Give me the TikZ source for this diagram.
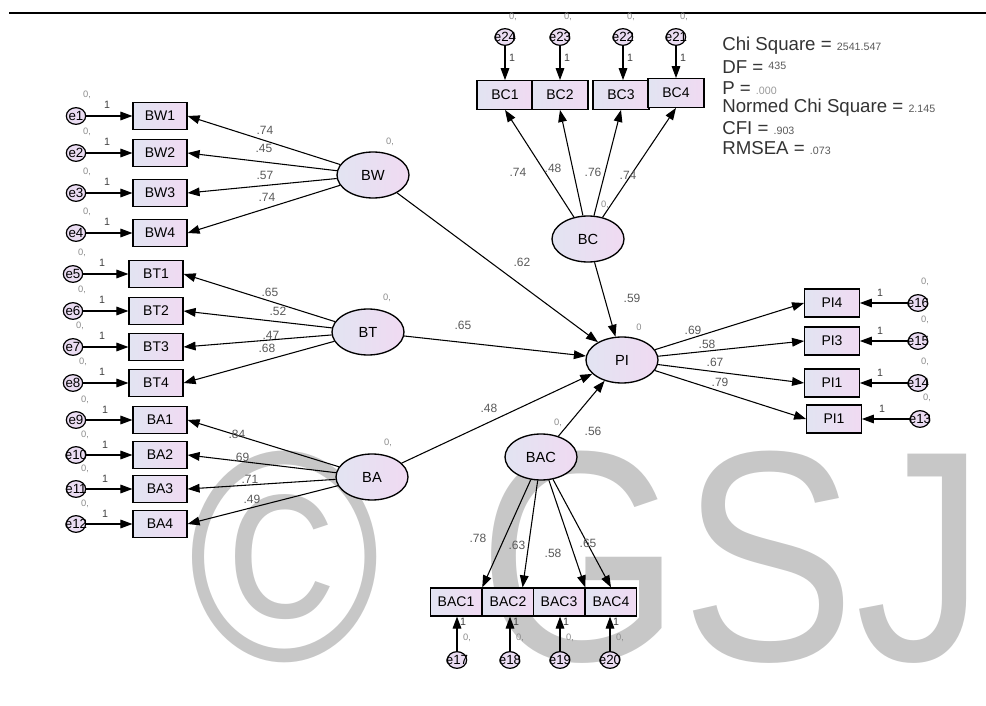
\documentclass[tikz,border=0pt]{standalone}
\usepackage{fontspec}
\setmainfont{Liberation Sans}
\usetikzlibrary{shapes.geometric,arrows.meta}
\definecolor{fillL}{RGB}{226,228,242}
\definecolor{fillR}{RGB}{240,218,242}
\definecolor{errFill}{RGB}{234,220,242}
\colorlet{coefColor}{black!65}
\colorlet{meanColor}{black!45}
\colorlet{markColor}{black!22}
\tikzset{>={Triangle[length=9pt,width=6.5pt]}}
\tikzset{
  ind/.style={draw,line width=0.9pt,left color=fillL,right color=fillR,minimum width=40.5pt,minimum height=20.5pt,inner sep=0pt,font=\fontsize{10.5}{12}\selectfont},
  lat/.style={draw,ellipse,line width=1pt,left color=fillL,right color=fillR,minimum width=54pt,minimum height=34.5pt,inner sep=0pt,font=\fontsize{11}{12}\selectfont},
  err/.style={draw,ellipse,line width=0.9pt,fill=errFill,minimum width=14.5pt,minimum height=12.5pt,inner sep=0pt,label={[font=\fontsize{10}{10}\selectfont,inner sep=0pt]center:#1}},
  coef/.style={font=\fontsize{9}{10}\selectfont,text=coefColor,inner sep=0pt},
  mean/.style={font=\fontsize{7}{8}\selectfont,text=meanColor,inner sep=0pt},
  one/.style={font=\fontsize{8}{9}\selectfont,text=black!75,inner sep=0pt},
  stat/.style={anchor=west,font=\fontsize{14}{16}\selectfont,text=black!80,inner sep=0pt},
  wmark/.style={anchor=base west,inner sep=0pt,text=markColor},
  path/.style={->,line width=0.8pt}
}
\newcommand{\statnum}[1]{{\fontsize{8}{9}\selectfont\color{black!65}#1}}
\newcommand{\wmtext}[1]{\scalebox{0.87}[1]{\fontsize{225}{225}\selectfont #1}}
\begin{document}
\begin{tikzpicture}[x=0.75pt,y=-0.75pt]
\useasboundingbox (0,0) rectangle (986,706);
\node[wmark] (markC) at (188,660) {\wmtext{©}};
\node[wmark] (markGSJ) at (478,660) {\wmtext{GSJ}};
\draw[line width=1.5pt] (9,13) -- (986,13);
% latent variables
\node[lat] (BW) at (373,175) {BW};
\node[lat] (BT) at (368,332) {BT};
\node[lat] (BA) at (372,477) {BA};
\node[lat] (BC) at (588,239) {BC};
\node[lat] (PI) at (622,360) {PI};
\node[lat] (BAC) at (541,457) {BAC};
% indicators
\node[ind] (BW1) at (160,116) {BW1};
\node[ind] (BW2) at (160,153) {BW2};
\node[ind] (BW3) at (160,193) {BW3};
\node[ind] (BW4) at (160,233) {BW4};
\node[ind] (BT1) at (156,274) {BT1};
\node[ind] (BT2) at (156,311) {BT2};
\node[ind] (BT3) at (156,347) {BT3};
\node[ind] (BT4) at (156,383) {BT4};
\node[ind] (BA1) at (160,420) {BA1};
\node[ind] (BA2) at (160,455) {BA2};
\node[ind] (BA3) at (160,489) {BA3};
\node[ind] (BA4) at (160,524) {BA4};
\node[ind,minimum width=42pt,minimum height=21.5pt] (BC1) at (505,95) {BC1};
\node[ind,minimum width=42pt,minimum height=21.5pt] (BC2) at (560,95) {BC2};
\node[ind,minimum width=42pt,minimum height=21.5pt] (BC3) at (621,95) {BC3};
\node[ind,minimum width=42pt,minimum height=21.5pt] (BC4) at (676,93) {BC4};
\node[ind,minimum width=38.5pt,minimum height=21pt] (BAC1) at (456,602) {BAC1};
\node[ind,minimum width=38.5pt,minimum height=21pt] (BAC2) at (508,602) {BAC2};
\node[ind,minimum width=38.5pt,minimum height=21pt] (BAC3) at (559,602) {BAC3};
\node[ind,minimum width=38.5pt,minimum height=21pt] (BAC4) at (611,602) {BAC4};
\node[ind,minimum width=41pt,minimum height=21pt] (PI4) at (832,303) {PI4};
\node[ind,minimum width=41pt,minimum height=21pt] (PI3) at (832,341) {PI3};
\node[ind,minimum width=41pt,minimum height=21pt] (PI1a) at (832,383) {PI1};
\node[ind,minimum width=41pt,minimum height=21pt] (PI1b) at (834,419) {PI1};
% errors
\node[err=e1] (e1) at (76,116) {};
\node[err=e2] (e2) at (76,153) {};
\node[err=e3] (e3) at (76,193) {};
\node[err=e4] (e4) at (76,233) {};
\node[err=e5] (e5) at (73,274) {};
\node[err=e6] (e6) at (73,311) {};
\node[err=e7] (e7) at (73,347) {};
\node[err=e8] (e8) at (73,383) {};
\node[err=e9] (e9) at (76,420) {};
\node[err=e10] (e10) at (76,455) {};
\node[err=e11] (e11) at (76,489) {};
\node[err=e12] (e12) at (76,524) {};
\node[err=e24] (e24) at (505,37) {};
\node[err=e23] (e23) at (560,37) {};
\node[err=e22] (e22) at (623,37) {};
\node[err=e21] (e21) at (676,37) {};
\node[err=e17] (e17) at (457,660) {};
\node[err=e18] (e18) at (510,660) {};
\node[err=e19] (e19) at (560,660) {};
\node[err=e20] (e20) at (610,660) {};
\node[err=e16] (e16) at (918,303) {};
\node[err=e15] (e15) at (918,341) {};
\node[err=e14] (e14) at (918,383) {};
\node[err=e13] (e13) at (920,419) {};
% error arrows
\draw[path] (e1) -- (e1 -| BW1.west);
\draw[path] (e2) -- (e2 -| BW2.west);
\draw[path] (e3) -- (e3 -| BW3.west);
\draw[path] (e4) -- (e4 -| BW4.west);
\draw[path] (e5) -- (e5 -| BT1.west);
\draw[path] (e6) -- (e6 -| BT2.west);
\draw[path] (e7) -- (e7 -| BT3.west);
\draw[path] (e8) -- (e8 -| BT4.west);
\draw[path] (e9) -- (e9 -| BA1.west);
\draw[path] (e10) -- (e10 -| BA2.west);
\draw[path] (e11) -- (e11 -| BA3.west);
\draw[path] (e12) -- (e12 -| BA4.west);
\draw[path] (e24) -- (e24 |- BC1.north);
\draw[path] (e23) -- (e23 |- BC2.north);
\draw[path] (e22) -- (e22 |- BC3.north);
\draw[path] (e21) -- (e21 |- BC4.north);
\draw[path] (e17) -- (e17 |- BAC1.south);
\draw[path] (e18) -- (e18 |- BAC2.south);
\draw[path] (e19) -- (e19 |- BAC3.south);
\draw[path] (e20) -- (e20 |- BAC4.south);
\draw[path] (e16) -- (e16 -| PI4.east);
\draw[path] (e15) -- (e15 -| PI3.east);
\draw[path] (e14) -- (e14 -| PI1a.east);
\draw[path] (e13) -- (e13 -| PI1b.east);
% loadings
\draw[path] (BW) -- (BW1.east);
\draw[path] (BW) -- (BW2.east);
\draw[path] (BW) -- (BW3.east);
\draw[path] (BW) -- (BW4.east);
\draw[path] (BT) -- (BT1.east);
\draw[path] (BT) -- (BT2.east);
\draw[path] (BT) -- (BT3.east);
\draw[path] (BT) -- (BT4.east);
\draw[path] (BA) -- (BA1.east);
\draw[path] (BA) -- (BA2.east);
\draw[path] (BA) -- (BA3.east);
\draw[path] (BA) -- (BA4.east);
\draw[path] (BC) -- (BC1.south);
\draw[path] (BC) -- (BC2.south);
\draw[path] (BC) -- (BC3.south);
\draw[path] (BC) -- (BC4.south);
\draw[path] (BAC) -- (BAC1.north east);
\draw[path] (BAC) -- (BAC2.45);
\draw[path] (BAC) -- (BAC3.north east);
\draw[path] (BAC) -- (BAC4.north);
\draw[path] (PI) -- (PI4.west);
\draw[path] (PI) -- (PI3.west);
\draw[path] (PI) -- (PI1a.west);
\draw[path] (PI) -- (PI1b.west);
% structural paths
\draw[path] (BW) -- (PI);
\draw[path] (BT) -- (PI);
\draw[path] (BA) -- (PI);
\draw[path] (BC) -- (PI);
\draw[path] (BAC) -- (PI);
% coefficients
\node[coef] (cBW1) at (265,130) {.74};
\node[coef] (cBW2) at (264,148) {.45};
\node[coef] (cBW3) at (265,175) {.57};
\node[coef] (cBW4) at (267,197) {.74};
\node[coef] (cBT1) at (270,292) {.65};
\node[coef] (cBT2) at (278,311) {.52};
\node[coef] (cBT3) at (271,335) {.47};
\node[coef] (cBT4) at (267,348) {.68};
\node[coef] (cBA1) at (237,434) {.84};
\node[coef] (cBA2) at (241,457) {.69};
\node[coef] (cBA3) at (250,479) {.71};
\node[coef] (cBA4) at (252,499) {.49};
\node[coef] (cBC1) at (518,172) {.74};
\node[coef] (cBC2) at (553,168) {.48};
\node[coef] (cBC3) at (593,172) {.76};
\node[coef] (cBC4) at (628,175) {.74};
\node[coef] (cBAC1) at (478,538) {.78};
\node[coef] (cBAC2) at (517,545) {.63};
\node[coef] (cBAC3) at (553,553) {.58};
\node[coef] (cBAC4) at (588,543) {.65};
\node[coef] (cPI4) at (693,330) {.69};
\node[coef] (cPI3) at (707,344) {.58};
\node[coef] (cPI1a) at (715,362) {.67};
\node[coef] (cPI1b) at (720,382) {.79};
\node[coef] (cBW) at (522,262) {.62};
\node[coef] (cBT) at (463,325) {.65};
\node[coef] (cBA) at (489,408) {.48};
\node[coef] (cBC) at (632,298) {.59};
\node[coef] (cBAC) at (593,431) {.56};
% means and fixed weights
\node[mean] (mBW) at (390,142) {0,};
\node[mean] (mBT) at (387,298) {0,};
\node[mean] (mBA) at (388,443) {0,};
\node[mean] (mBC) at (605,205) {0,};
\node[mean] (mPI) at (639,327) {0};
\node[mean] (mBAC) at (558,423) {0,};
\node[mean] (m1) at (87,95) {0,};
\node[mean] (m2) at (87,132) {0,};
\node[mean] (m3) at (87,172) {0,};
\node[mean] (m4) at (87,212) {0,};
\node[mean] (m5) at (82,253) {0,};
\node[mean] (m6) at (82,290) {0,};
\node[mean] (m7) at (80,326) {0,};
\node[mean] (m8) at (83,362) {0,};
\node[mean] (m9) at (85,400) {0,};
\node[mean] (m10) at (85,435) {0,};
\node[mean] (m11) at (85,469) {0,};
\node[mean] (m12) at (85,504) {0,};
\node[mean] (m24) at (513,17) {0,};
\node[mean] (m23) at (568,17) {0,};
\node[mean] (m22) at (631,17) {0,};
\node[mean] (m21) at (684,17) {0,};
\node[mean] (m17) at (467,638) {0,};
\node[mean] (m18) at (520,638) {0,};
\node[mean] (m19) at (570,638) {0,};
\node[mean] (m20) at (620,638) {0,};
\node[mean] (m16) at (925,282) {0,};
\node[mean] (m15) at (925,320) {0,};
\node[mean] (m14) at (925,362) {0,};
\node[mean] (m13) at (927,398) {0,};
\node[one] (w1) at (107,105) {1};
\node[one] (w2) at (107,142) {1};
\node[one] (w3) at (107,182) {1};
\node[one] (w4) at (107,222) {1};
\node[one] (w5) at (102,263) {1};
\node[one] (w6) at (102,300) {1};
\node[one] (w7) at (102,336) {1};
\node[one] (w8) at (102,372) {1};
\node[one] (w9) at (105,410) {1};
\node[one] (w10) at (105,445) {1};
\node[one] (w11) at (105,479) {1};
\node[one] (w12) at (105,514) {1};
\node[one] (w24) at (512,58) {1};
\node[one] (w23) at (567,58) {1};
\node[one] (w22) at (630,58) {1};
\node[one] (w21) at (683,58) {1};
\node[one] (w17) at (463,622) {1};
\node[one] (w18) at (516,622) {1};
\node[one] (w19) at (566,622) {1};
\node[one] (w20) at (616,622) {1};
\node[one] (w16) at (880,293) {1};
\node[one] (w15) at (880,331) {1};
\node[one] (w14) at (880,373) {1};
\node[one] (w13) at (882,409) {1};
% fit statistics
\node[stat] (chi) at (722,46) {Chi Square = \statnum{2541.547}};
\node[stat] (df) at (722,67) {DF = \raisebox{3pt}{\statnum{435}}};
\node[stat] (pval) at (722,88) {P = {\fontsize{8}{9}\selectfont\color{black!40}.000}};
\node[stat] (nchi) at (722,108) {Normed Chi Square = \statnum{2.145}};
\node[stat] (cfi) at (722,128) {CFI = \statnum{.903}};
\node[stat] (rmsea) at (722,148) {RMSEA = \statnum{.073}};
\end{tikzpicture}
\end{document}
